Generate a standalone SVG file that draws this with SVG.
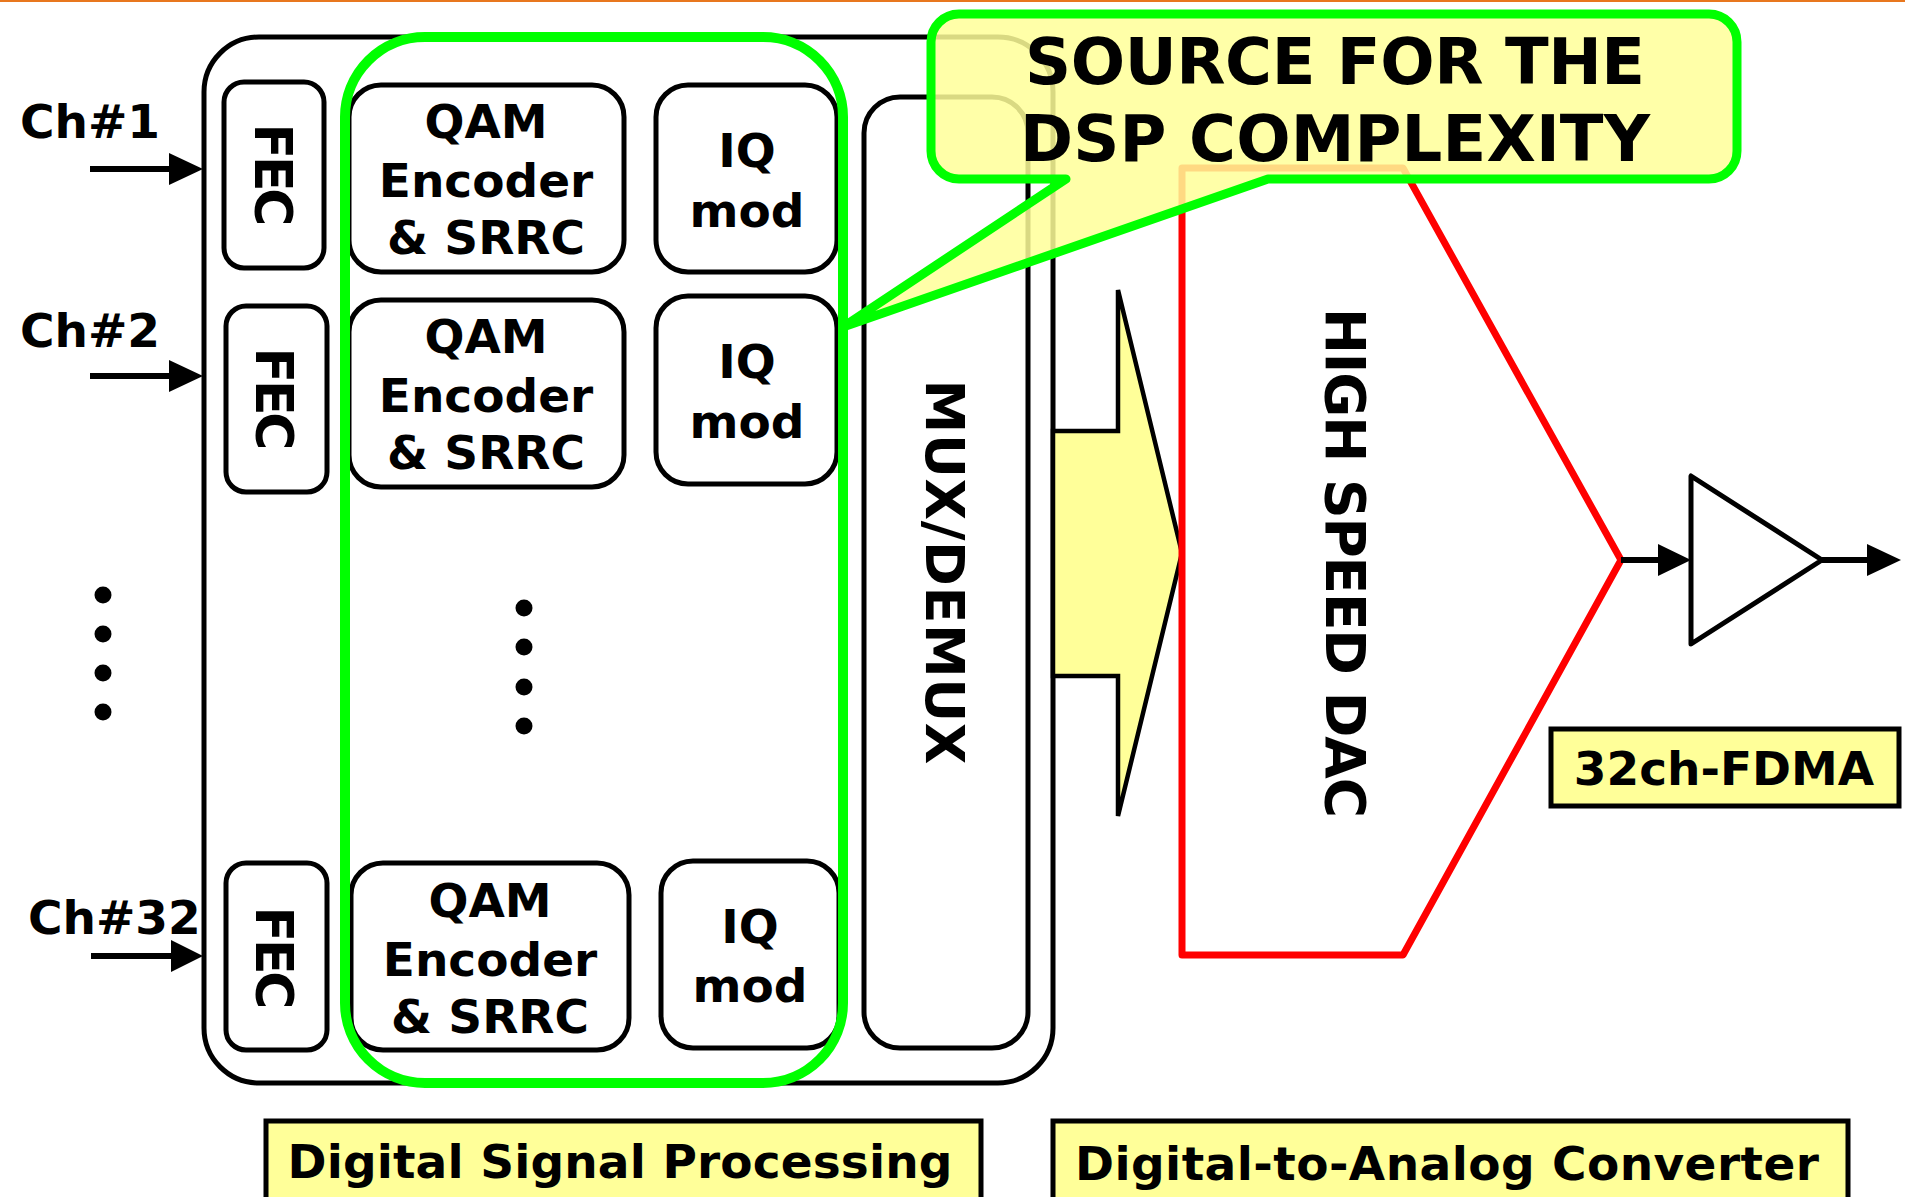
<svg xmlns="http://www.w3.org/2000/svg" width="1905" height="1197" viewBox="0 0 1905 1197">
<style>
text{font-family:"DejaVu Sans","Verdana","Liberation Sans",sans-serif;font-weight:bold;fill:#000}
.blk{fill:#fff;stroke:#000;stroke-width:5}
.lbl{fill:#FFFF99;stroke:#000;stroke-width:5}
.c{text-anchor:middle}
.arr{stroke:#000;stroke-width:6;fill:none}
.head{fill:#000}
</style>
<rect x="0" y="0" width="1905" height="2" fill="#E8771E"/>
<g id="dsp-outer"><rect class="blk" x="204" y="37" width="849" height="1046" rx="55"/></g>
<g id="fec1"><rect class="blk" x="224" y="82" width="100" height="186" rx="20"/><text class="c" font-size="52" textLength="103" transform="translate(255,175) rotate(90)">FEC</text></g>
<g id="fec2"><rect class="blk" x="226" y="306" width="101" height="186" rx="20"/><text class="c" font-size="52" textLength="103" transform="translate(256,399) rotate(90)">FEC</text></g>
<g id="fec32"><rect class="blk" x="226" y="863" width="101" height="187" rx="20"/><text class="c" font-size="52" textLength="103" transform="translate(256,958) rotate(90)">FEC</text></g>
<g id="qam1"><rect class="blk" x="349" y="85" width="275" height="187" rx="32"/><text class="c" font-size="47" x="486" y="138">QAM</text><text class="c" font-size="47" x="486" y="197">Encoder</text><text class="c" font-size="47" x="486" y="254">&amp; SRRC</text></g>
<g id="qam2"><rect class="blk" x="349" y="300" width="275" height="187" rx="32"/><text class="c" font-size="47" x="486" y="353">QAM</text><text class="c" font-size="47" x="486" y="412">Encoder</text><text class="c" font-size="47" x="486" y="469">&amp; SRRC</text></g>
<g id="qam32"><rect class="blk" x="351" y="863" width="278" height="187" rx="32"/><text class="c" font-size="47" x="490" y="917">QAM</text><text class="c" font-size="47" x="490" y="976">Encoder</text><text class="c" font-size="47" x="490" y="1033">&amp; SRRC</text></g>
<g id="iq1"><rect class="blk" x="656" y="85" width="181" height="187" rx="32"/><text class="c" font-size="47" x="747" y="167">IQ</text><text class="c" font-size="47" x="747" y="227">mod</text></g>
<g id="iq2"><rect class="blk" x="656" y="296" width="181" height="188" rx="32"/><text class="c" font-size="47" x="747" y="378">IQ</text><text class="c" font-size="47" x="747" y="438">mod</text></g>
<g id="iq32"><rect class="blk" x="661" y="861" width="178" height="187" rx="32"/><text class="c" font-size="47" x="750" y="943">IQ</text><text class="c" font-size="47" x="750" y="1002">mod</text></g>
<g id="dots-left"><circle cx="103" cy="595" r="8.5"/><circle cx="103" cy="634" r="8.5"/><circle cx="103" cy="673" r="8.5"/><circle cx="103" cy="712" r="8.5"/></g>
<g id="dots-mid"><circle cx="524" cy="608" r="8.5"/><circle cx="524" cy="647" r="8.5"/><circle cx="524" cy="687" r="8.5"/><circle cx="524" cy="726" r="8.5"/></g>
<g id="mux"><rect class="blk" x="864" y="97" width="164" height="951" rx="36"/><text class="c" font-size="54" textLength="385" transform="translate(926,572) rotate(90)">MUX/DEMUX</text></g>
<g id="dsp-highlight"><rect x="345" y="37" width="498" height="1046" rx="80" fill="none" stroke="#00FF00" stroke-width="10"/></g>
<g id="big-arrow"><polygon points="1053,431 1118,431 1118,290 1182,553 1118,816 1118,676 1053,676" fill="#FFFF99" stroke="#000" stroke-width="4.5" stroke-linejoin="miter"/></g>
<g id="dac"><polygon points="1182,168 1403,168 1621,560 1403,955 1182,955" fill="none" stroke="#FF0000" stroke-width="7" stroke-linejoin="round"/><text class="c" font-size="55" textLength="510" transform="translate(1326,563) rotate(90)">HIGH SPEED DAC</text></g>
<g id="amp"><polygon points="1691,476 1691,644 1822,560" fill="#fff" stroke="#000" stroke-width="5" stroke-linejoin="round"/></g>
<g id="connectors">
<text font-size="47" x="20" y="138">Ch#1</text>
<text font-size="47" x="20" y="347">Ch#2</text>
<text font-size="47" x="28" y="934">Ch#32</text>
<line class="arr" x1="90" y1="169" x2="172" y2="169"/><polygon class="head" points="169,153 203,169 169,185"/>
<line class="arr" x1="90" y1="376" x2="172" y2="376"/><polygon class="head" points="169,360 203,376 169,392"/>
<line class="arr" x1="91" y1="956" x2="173" y2="956"/><polygon class="head" points="171,940 203,956 171,972"/>
<line class="arr" stroke-width="5" x1="1621" y1="560" x2="1660" y2="560"/><polygon class="head" points="1658,544 1691,560 1658,576"/>
<line class="arr" stroke-width="5" x1="1822" y1="560" x2="1870" y2="560"/><polygon class="head" points="1867,544 1901,560 1867,576"/>
</g>
<g id="label-fdma"><rect class="lbl" x="1551" y="729" width="348" height="77"/><text class="c" font-size="47" x="1724" y="785">32ch-FDMA</text></g>
<g id="label-dsp"><rect class="lbl" x="266" y="1121" width="715" height="100"/><text class="c" font-size="47" x="620" y="1178" textLength="665">Digital Signal Processing</text></g>
<g id="label-dac"><rect class="lbl" x="1053" y="1121" width="795" height="100"/><text class="c" font-size="47" x="1447" y="1180" textLength="744">Digital-to-Analog Converter</text></g>
<g id="callout"><path d="M959,14 H1709 A28,28 0 0 1 1737,42 V151 A28,28 0 0 1 1709,179 H1268 L843,327 L1066,179 H959 A28,28 0 0 1 931,151 V42 A28,28 0 0 1 959,14 Z" fill="#FFFF99" fill-opacity="0.85" stroke="#00FF00" stroke-width="9" stroke-linejoin="round"/><text class="c" font-size="64" x="1335" y="84" textLength="620">SOURCE FOR THE</text><text class="c" font-size="64" x="1335" y="161" textLength="630">DSP COMPLEXITY</text></g>
</svg>
